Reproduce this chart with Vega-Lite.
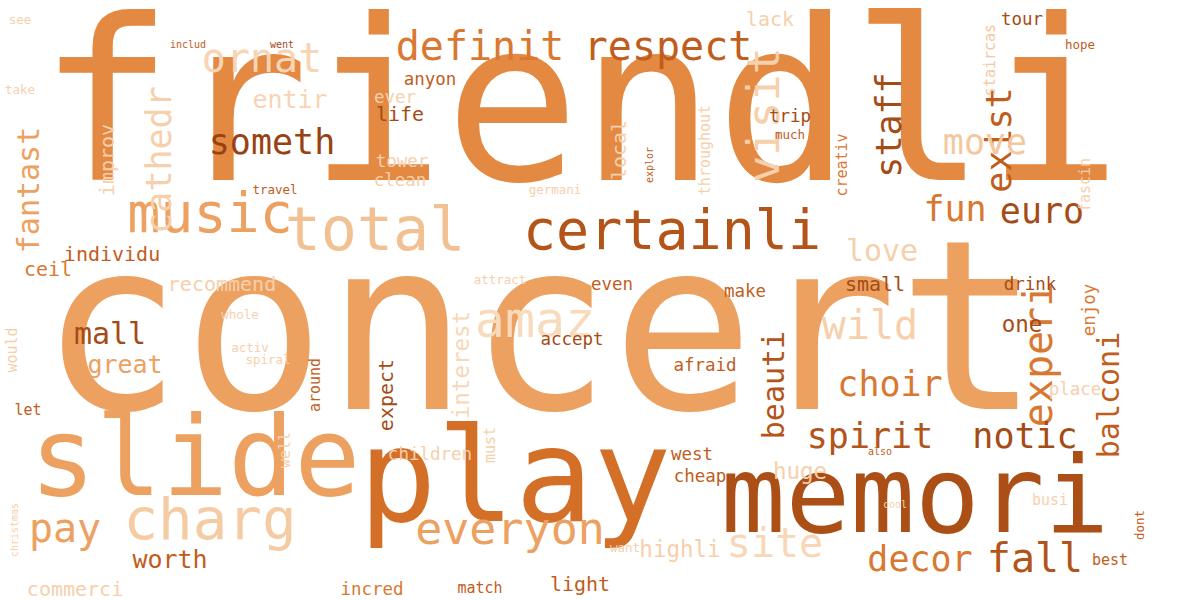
{
  "$schema": "https://vega.github.io/schema/vega-lite/v6.json",
  "width": 1188,
  "height": 600,
  "autosize": {"type": "fit", "contains": "padding"},
  "padding": 0,
  "background": "white",
  "config": {"view": {"stroke": null}},
  "data": {
    "values": [
      {"word": "friendli", "x": 580, "y": 112, "freq": 90, "shade": 0.55, "rot": 0},
      {"word": "concert", "x": 540, "y": 338, "freq": 95, "shade": 0.42, "rot": 0},
      {"word": "play", "x": 515, "y": 482, "freq": 52, "shade": 0.7, "rot": 0},
      {"word": "memori", "x": 915, "y": 500, "freq": 43, "shade": 0.88, "rot": 0},
      {"word": "slide", "x": 195, "y": 462, "freq": 44, "shade": 0.42, "rot": 0},
      {"word": "charg", "x": 210, "y": 522, "freq": 23, "shade": 0.18, "rot": 0},
      {"word": "music", "x": 210, "y": 215, "freq": 22, "shade": 0.42, "rot": 0},
      {"word": "total", "x": 375, "y": 232, "freq": 24, "shade": 0.25, "rot": 0},
      {"word": "certainli", "x": 672, "y": 232, "freq": 22, "shade": 0.85, "rot": 0},
      {"word": "definit", "x": 480, "y": 48, "freq": 16, "shade": 0.65, "rot": 0},
      {"word": "respect", "x": 668, "y": 48, "freq": 16, "shade": 0.8, "rot": 0},
      {"word": "ornat", "x": 262, "y": 60, "freq": 16, "shade": 0.12, "rot": 0},
      {"word": "someth", "x": 272, "y": 143, "freq": 14, "shade": 0.95, "rot": 0},
      {"word": "cathedr", "x": 160, "y": 160, "freq": 14, "shade": 0.15, "rot": -90},
      {"word": "fantast", "x": 30, "y": 190, "freq": 12, "shade": 0.42, "rot": -90},
      {"word": "visit", "x": 765, "y": 115, "freq": 18, "shade": 0.15, "rot": -90},
      {"word": "staff", "x": 890, "y": 125, "freq": 14, "shade": 0.9, "rot": -90},
      {"word": "exist", "x": 1000, "y": 140, "freq": 14, "shade": 0.8, "rot": -90},
      {"word": "move", "x": 985, "y": 143, "freq": 14, "shade": 0.2, "rot": 0},
      {"word": "fun", "x": 955, "y": 210, "freq": 14, "shade": 0.65, "rot": 0},
      {"word": "euro", "x": 1042, "y": 212, "freq": 14, "shade": 0.9, "rot": 0},
      {"word": "love", "x": 882, "y": 252, "freq": 12, "shade": 0.15, "rot": 0},
      {"word": "wild", "x": 870, "y": 327, "freq": 16, "shade": 0.15, "rot": 0},
      {"word": "experi", "x": 1040, "y": 355, "freq": 16, "shade": 0.65, "rot": -90},
      {"word": "balconi", "x": 1110, "y": 395, "freq": 12, "shade": 0.8, "rot": -90},
      {"word": "beauti", "x": 775, "y": 385, "freq": 12, "shade": 0.85, "rot": -90},
      {"word": "choir", "x": 890, "y": 385, "freq": 14, "shade": 0.65, "rot": 0},
      {"word": "spirit", "x": 870, "y": 437, "freq": 14, "shade": 0.85, "rot": 0},
      {"word": "notic", "x": 1025, "y": 437, "freq": 14, "shade": 0.9, "rot": 0},
      {"word": "amaz", "x": 535, "y": 322, "freq": 20, "shade": 0.08, "rot": 0},
      {"word": "mall", "x": 110, "y": 335, "freq": 12, "shade": 0.9, "rot": 0},
      {"word": "great", "x": 125, "y": 365, "freq": 10, "shade": 0.42, "rot": 0},
      {"word": "pay", "x": 65, "y": 530, "freq": 16, "shade": 0.42, "rot": 0},
      {"word": "everyon", "x": 510, "y": 530, "freq": 18, "shade": 0.42, "rot": 0},
      {"word": "site", "x": 775, "y": 545, "freq": 16, "shade": 0.1, "rot": 0},
      {"word": "decor", "x": 920, "y": 560, "freq": 14, "shade": 0.65, "rot": 0},
      {"word": "fall", "x": 1035, "y": 560, "freq": 16, "shade": 0.85, "rot": 0},
      {"word": "highli", "x": 680, "y": 550, "freq": 9, "shade": 0.15, "rot": 0},
      {"word": "worth", "x": 170, "y": 560, "freq": 10, "shade": 0.8, "rot": 0},
      {"word": "commerci", "x": 75, "y": 590, "freq": 8, "shade": 0.15, "rot": 0},
      {"word": "incred", "x": 372, "y": 590, "freq": 7, "shade": 0.65, "rot": 0},
      {"word": "light", "x": 580, "y": 585, "freq": 8, "shade": 0.8, "rot": 0},
      {"word": "match", "x": 480, "y": 588, "freq": 6, "shade": 0.8, "rot": 0},
      {"word": "individu", "x": 112, "y": 255, "freq": 8, "shade": 0.8, "rot": 0},
      {"word": "recommend", "x": 222, "y": 285, "freq": 8, "shade": 0.15, "rot": 0},
      {"word": "ceil", "x": 48, "y": 270, "freq": 8, "shade": 0.65, "rot": 0},
      {"word": "accept", "x": 572, "y": 340, "freq": 7, "shade": 0.9, "rot": 0},
      {"word": "afraid", "x": 705, "y": 366, "freq": 7, "shade": 0.8, "rot": 0},
      {"word": "expect", "x": 387, "y": 395, "freq": 8, "shade": 0.9, "rot": -90},
      {"word": "interest", "x": 462, "y": 365, "freq": 9, "shade": 0.1, "rot": -90},
      {"word": "children", "x": 430, "y": 455, "freq": 7, "shade": 0.15, "rot": 0},
      {"word": "west", "x": 692, "y": 455, "freq": 7, "shade": 0.8, "rot": 0},
      {"word": "huge", "x": 800, "y": 472, "freq": 9, "shade": 0.15, "rot": 0},
      {"word": "cheap", "x": 700, "y": 477, "freq": 7, "shade": 0.8, "rot": 0},
      {"word": "anyon", "x": 430, "y": 80, "freq": 7, "shade": 0.8, "rot": 0},
      {"word": "life", "x": 400, "y": 115, "freq": 8, "shade": 0.9, "rot": 0},
      {"word": "entir", "x": 290, "y": 100, "freq": 10, "shade": 0.12, "rot": 0},
      {"word": "improv", "x": 108, "y": 160, "freq": 8, "shade": 0.15, "rot": -90},
      {"word": "ever", "x": 395, "y": 98, "freq": 7, "shade": 0.15, "rot": 0},
      {"word": "tower", "x": 402, "y": 162, "freq": 7, "shade": 0.15, "rot": 0},
      {"word": "clean", "x": 400, "y": 181, "freq": 7, "shade": 0.15, "rot": 0},
      {"word": "trip", "x": 790, "y": 117, "freq": 7, "shade": 0.9, "rot": 0},
      {"word": "lack", "x": 770, "y": 20, "freq": 8, "shade": 0.15, "rot": 0},
      {"word": "tour", "x": 1022, "y": 20, "freq": 7, "shade": 0.9, "rot": 0},
      {"word": "hope", "x": 1080, "y": 45, "freq": 5, "shade": 0.8, "rot": 0},
      {"word": "local", "x": 620, "y": 150, "freq": 8, "shade": 0.15, "rot": -90},
      {"word": "throughout", "x": 705, "y": 150, "freq": 6, "shade": 0.15, "rot": -90},
      {"word": "small", "x": 875, "y": 285, "freq": 8, "shade": 0.9, "rot": 0},
      {"word": "drink", "x": 1030, "y": 285, "freq": 7, "shade": 0.9, "rot": 0},
      {"word": "enjoy", "x": 1090, "y": 310, "freq": 7, "shade": 0.65, "rot": -90},
      {"word": "one", "x": 1022, "y": 325, "freq": 9, "shade": 0.9, "rot": 0},
      {"word": "make", "x": 745, "y": 292, "freq": 7, "shade": 0.8, "rot": 0},
      {"word": "even", "x": 612, "y": 285, "freq": 7, "shade": 0.8, "rot": 0},
      {"word": "creativ", "x": 842, "y": 165, "freq": 6, "shade": 0.65, "rot": -90},
      {"word": "much", "x": 790, "y": 135, "freq": 5, "shade": 0.8, "rot": 0},
      {"word": "staircas", "x": 990, "y": 60, "freq": 6, "shade": 0.2, "rot": -90},
      {"word": "fascin", "x": 1085, "y": 185, "freq": 6, "shade": 0.15, "rot": -90},
      {"word": "let", "x": 28, "y": 410, "freq": 6, "shade": 0.8, "rot": 0},
      {"word": "would", "x": 12, "y": 350, "freq": 6, "shade": 0.15, "rot": -90},
      {"word": "spiral", "x": 268, "y": 360, "freq": 5, "shade": 0.15, "rot": 0},
      {"word": "well", "x": 285, "y": 450, "freq": 6, "shade": 0.15, "rot": -90},
      {"word": "around", "x": 315, "y": 385, "freq": 6, "shade": 0.8, "rot": -90},
      {"word": "must", "x": 490, "y": 445, "freq": 6, "shade": 0.15, "rot": -90},
      {"word": "best", "x": 1110, "y": 560, "freq": 6, "shade": 0.8, "rot": 0},
      {"word": "dont", "x": 1140, "y": 525, "freq": 5, "shade": 0.8, "rot": -90},
      {"word": "place", "x": 1075, "y": 390, "freq": 7, "shade": 0.15, "rot": 0},
      {"word": "busi", "x": 1050, "y": 500, "freq": 6, "shade": 0.15, "rot": 0},
      {"word": "want", "x": 625, "y": 548, "freq": 5, "shade": 0.15, "rot": 0},
      {"word": "also", "x": 880, "y": 452, "freq": 4, "shade": 0.8, "rot": 0},
      {"word": "see", "x": 20, "y": 20, "freq": 5, "shade": 0.15, "rot": 0},
      {"word": "includ", "x": 188, "y": 45, "freq": 4, "shade": 0.8, "rot": 0},
      {"word": "went", "x": 282, "y": 45, "freq": 4, "shade": 0.9, "rot": 0},
      {"word": "activ", "x": 250, "y": 348, "freq": 5, "shade": 0.15, "rot": 0},
      {"word": "whole", "x": 240, "y": 315, "freq": 5, "shade": 0.15, "rot": 0},
      {"word": "attract", "x": 500, "y": 280, "freq": 5, "shade": 0.15, "rot": 0},
      {"word": "travel", "x": 275, "y": 190, "freq": 5, "shade": 0.8, "rot": 0},
      {"word": "germani", "x": 555, "y": 190, "freq": 5, "shade": 0.15, "rot": 0},
      {"word": "explor", "x": 650, "y": 165, "freq": 4, "shade": 0.8, "rot": -90},
      {"word": "take", "x": 20, "y": 90, "freq": 5, "shade": 0.15, "rot": 0},
      {"word": "christmas", "x": 15, "y": 530, "freq": 4, "shade": 0.15, "rot": -90},
      {"word": "cool", "x": 895, "y": 505, "freq": 4, "shade": 0.15, "rot": 0}
    ]
  },
  "mark": {"type": "text", "font": "DejaVu Sans Mono", "align": "center", "baseline": "middle"},
  "encoding": {
    "x": {"field": "x", "type": "quantitative", "scale": {"domain": [0, 1188]}, "axis": null},
    "y": {"field": "y", "type": "quantitative", "scale": {"domain": [600, 0]}, "axis": null},
    "text": {"field": "word"},
    "size": {"field": "freq", "type": "quantitative", "scale": {"type": "linear", "domain": [0, 100], "range": [0, 250]}, "legend": null},
    "angle": {"field": "rot", "type": "quantitative", "scale": null},
    "color": {"field": "shade", "type": "quantitative", "scale": {"domain": [0, 1], "range": ["#fbe6d2", "#f2c193", "#e8924a", "#cf6620", "#8a3a0e"]}, "legend": null}
  }
}
